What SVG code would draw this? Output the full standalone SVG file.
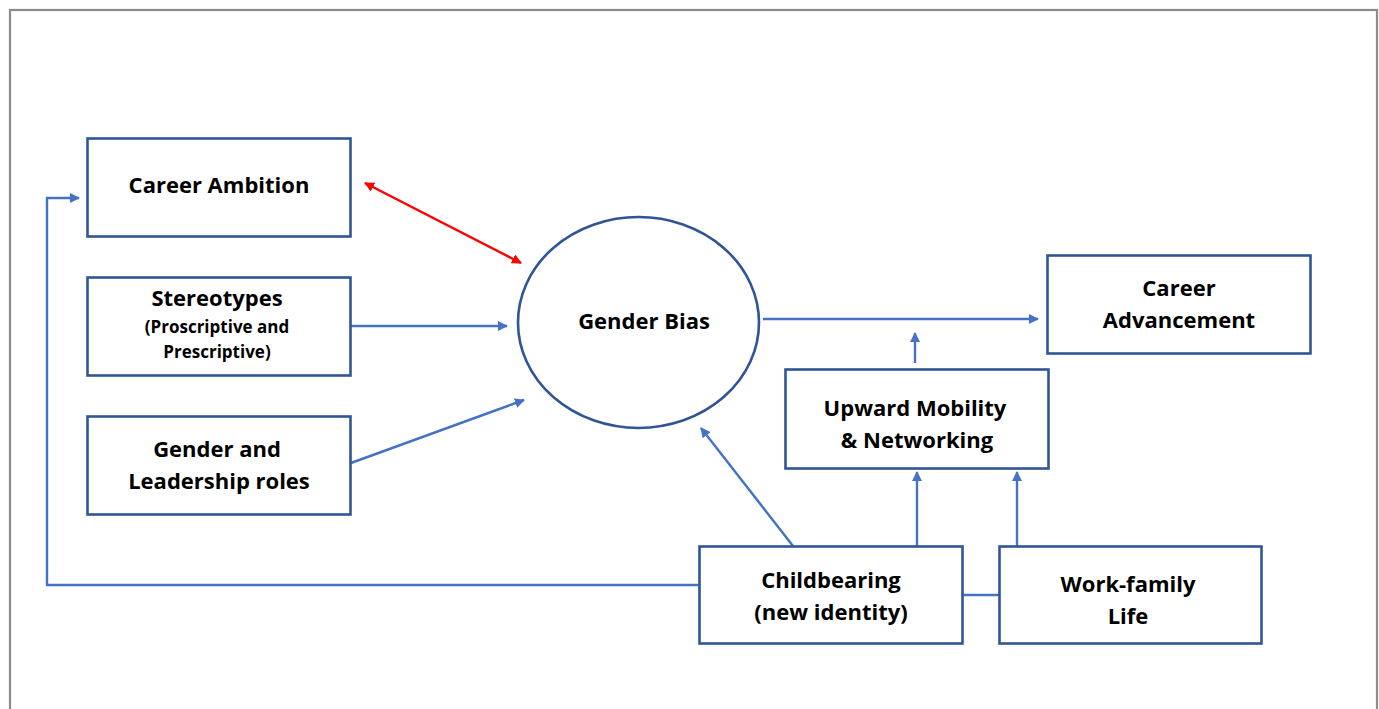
<svg xmlns="http://www.w3.org/2000/svg" width="1379" height="709" viewBox="0 0 1379 709">
<defs>
<style>
.box{fill:#fff;stroke:#2F5597;stroke-width:2.6}
.t{font-family:"Open Sans","Liberation Sans",sans-serif;font-weight:bold;font-size:22px;fill:#000;text-anchor:middle}
.s{font-size:17px}
.c{fill:none;stroke:#4472C4;stroke-width:2.4}
.r{fill:none;stroke:#FF0000;stroke-width:2.4}
</style>
<marker id="a" viewBox="0 0 10 10" refX="9" refY="5" markerWidth="4.2" markerHeight="4.2" orient="auto-start-reverse" markerUnits="strokeWidth">
<path d="M0,0 L10,5 L0,10 z" fill="#4472C4"/>
</marker>
<marker id="ar" viewBox="0 0 10 10" refX="9" refY="5" markerWidth="4.2" markerHeight="4.2" orient="auto-start-reverse" markerUnits="strokeWidth">
<path d="M0,0 L10,5 L0,10 z" fill="#FF0000"/>
</marker>
</defs>
<rect x="0" y="0" width="1379" height="709" fill="#fff"/>
<rect x="10" y="10" width="1367" height="720" fill="none" stroke="#8C8C8C" stroke-width="2.2"/>
<g id="connectors">
<path class="r" d="M365,183 L521,263" marker-start="url(#ar)" marker-end="url(#ar)"/>
<path class="c" d="M351,326 L507,326" marker-end="url(#a)"/>
<path class="c" d="M351,463 L524,400" marker-end="url(#a)"/>
<path class="c" d="M763,319 L1038,319" marker-end="url(#a)"/>
<path class="c" d="M915,363 L915,333" marker-end="url(#a)"/>
<path class="c" d="M793,546 L701,428" marker-end="url(#a)"/>
<path class="c" d="M917,546 L917,472" marker-end="url(#a)"/>
<path class="c" d="M1017,546 L1017,472" marker-end="url(#a)"/>
<path class="c" d="M699,585 L47,585 L47,198 L79,198" marker-end="url(#a)"/>
<path class="c" d="M962,595 L999,595"/>
</g>
<g id="career-ambition">
<rect class="box" x="87.5" y="138.5" width="263" height="98"/>
<text class="t" x="219" y="193">Career Ambition</text>
</g>
<g id="stereotypes">
<rect class="box" x="87.5" y="277.5" width="263" height="98"/>
<text class="t" x="217" y="306">Stereotypes</text>
<text class="t s" x="217" y="333">(Proscriptive and</text>
<text class="t s" x="217" y="358">Prescriptive)</text>
</g>
<g id="gender-leadership">
<rect class="box" x="87.5" y="416.5" width="263" height="98"/>
<text class="t" x="217" y="457">Gender and</text>
<text class="t" x="219" y="489">Leadership roles</text>
</g>
<g id="gender-bias">
<ellipse class="box" cx="638.5" cy="322.5" rx="120.5" ry="105.5"/>
<text class="t" x="644" y="329">Gender Bias</text>
</g>
<g id="career-advancement">
<rect class="box" x="1047.5" y="255.5" width="263" height="98"/>
<text class="t" x="1179" y="296">Career</text>
<text class="t" x="1179" y="328">Advancement</text>
</g>
<g id="upward-mobility">
<rect class="box" x="785.5" y="369.5" width="263" height="99"/>
<text class="t" x="915" y="416">Upward Mobility</text>
<text class="t" x="917" y="448">&amp; Networking</text>
</g>
<g id="childbearing">
<rect class="box" x="699.5" y="546.5" width="263" height="97"/>
<text class="t" x="831" y="588">Childbearing</text>
<text class="t" x="831" y="620">(new identity)</text>
</g>
<g id="work-family">
<rect class="box" x="999.5" y="546.5" width="262" height="97"/>
<text class="t" x="1128" y="592">Work-family</text>
<text class="t" x="1128" y="624">Life</text>
</g>
</svg>
